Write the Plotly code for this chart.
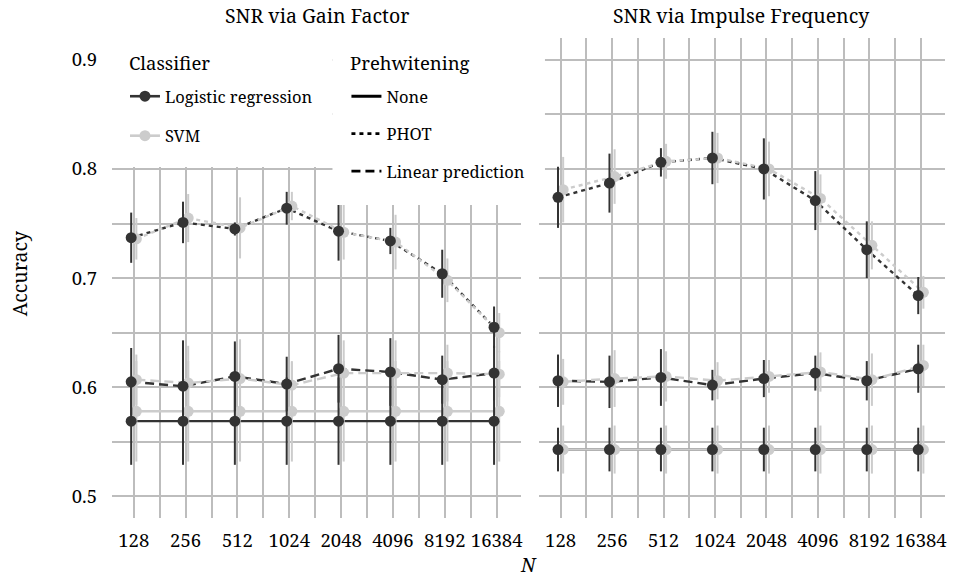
import plotly.graph_objects as go

# ---------------- data ----------------
N_labels = ["128", "256", "512", "1024", "2048", "4096", "8192", "16384"]
panels = ["SNR via Gain Factor", "SNR via Impulse Frequency"]
prewhitening = ["None", "PHOT", "Linear prediction"]
classifiers = ["Logistic regression", "SVM"]

# Gain factor panel
gain_lr_none = [0.569, 0.569, 0.569, 0.569, 0.569, 0.569, 0.569, 0.569]
gain_lr_none_err = [0.040, 0.040, 0.040, 0.040, 0.040, 0.040, 0.040, 0.040]
gain_svm_none = [0.578, 0.578, 0.578, 0.578, 0.578, 0.578, 0.578, 0.578]
gain_svm_none_err = [0.046, 0.046, 0.046, 0.046, 0.046, 0.046, 0.046, 0.046]
gain_lr_phot = [0.737, 0.751, 0.745, 0.764, 0.743, 0.734, 0.704, 0.655]
gain_lr_phot_err = [0.023, 0.019, 0.006, 0.015, 0.027, 0.012, 0.022, 0.019]
gain_svm_phot = [0.736, 0.755, 0.746, 0.766, 0.742, 0.733, 0.698, 0.650]
gain_svm_phot_err = [0.019, 0.022, 0.028, 0.013, 0.025, 0.025, 0.020, 0.018]
gain_lr_lp = [0.605, 0.601, 0.610, 0.603, 0.617, 0.614, 0.607, 0.613]
gain_lr_lp_err = [0.031, 0.042, 0.032, 0.025, 0.031, 0.031, 0.022, 0.025]
gain_svm_lp = [0.607, 0.604, 0.608, 0.602, 0.613, 0.613, 0.613, 0.612]
gain_svm_lp_err = [0.023, 0.034, 0.036, 0.021, 0.030, 0.030, 0.026, 0.021]

# Impulse frequency panel
imp_lr_none = [0.543, 0.543, 0.543, 0.543, 0.543, 0.543, 0.543, 0.543]
imp_lr_none_err = [0.020, 0.020, 0.020, 0.020, 0.020, 0.020, 0.020, 0.020]
imp_svm_none = [0.543, 0.543, 0.543, 0.543, 0.543, 0.543, 0.543, 0.543]
imp_svm_none_err = [0.022, 0.022, 0.022, 0.022, 0.022, 0.022, 0.022, 0.022]
imp_lr_phot = [0.774, 0.787, 0.806, 0.810, 0.800, 0.771, 0.726, 0.684]
imp_lr_phot_err = [0.028, 0.027, 0.013, 0.024, 0.028, 0.027, 0.026, 0.017]
imp_svm_phot = [0.781, 0.793, 0.807, 0.810, 0.800, 0.773, 0.730, 0.687]
imp_svm_phot_err = [0.030, 0.025, 0.016, 0.023, 0.025, 0.022, 0.022, 0.015]
imp_lr_lp = [0.606, 0.605, 0.609, 0.602, 0.608, 0.613, 0.606, 0.617]
imp_lr_lp_err = [0.024, 0.024, 0.026, 0.014, 0.017, 0.016, 0.018, 0.022]
imp_svm_lp = [0.605, 0.608, 0.610, 0.606, 0.610, 0.614, 0.607, 0.620]
imp_svm_lp_err = [0.021, 0.026, 0.023, 0.017, 0.015, 0.018, 0.024, 0.019]

series = {
    ("x", "y"): {
        "None": {"LR": (gain_lr_none, gain_lr_none_err), "SVM": (gain_svm_none, gain_svm_none_err)},
        "PHOT": {"LR": (gain_lr_phot, gain_lr_phot_err), "SVM": (gain_svm_phot, gain_svm_phot_err)},
        "Linear prediction": {"LR": (gain_lr_lp, gain_lr_lp_err), "SVM": (gain_svm_lp, gain_svm_lp_err)},
    },
    ("x2", "y2"): {
        "None": {"LR": (imp_lr_none, imp_lr_none_err), "SVM": (imp_svm_none, imp_svm_none_err)},
        "PHOT": {"LR": (imp_lr_phot, imp_lr_phot_err), "SVM": (imp_svm_phot, imp_svm_phot_err)},
        "Linear prediction": {"LR": (imp_lr_lp, imp_lr_lp_err), "SVM": (imp_svm_lp, imp_svm_lp_err)},
    },
}

# ---------------- style ----------------
FONT = "Noto Serif"
DARK = "#333333"
LIGHT = "#cccccc"
GRID = "#bdbdbd"
colors = {"LR": DARK, "SVM": LIGHT}
dodge = {"LR": -0.05, "SVM": 0.05}
dashes = {"None": "solid", "PHOT": "4px,4px", "Linear prediction": "9px,5px"}

idx = list(range(len(N_labels)))
fig = go.Figure()

for (xa, ya), data in series.items():
    for cls in ["LR", "SVM"]:
        for pw in prewhitening:
            vals, errs = data[pw][cls]
            fig.add_trace(go.Scatter(
                x=[i + dodge[cls] for i in idx], y=vals, xaxis=xa, yaxis=ya,
                mode="lines", line=dict(color=colors[cls], width=2.4, dash=dashes[pw]),
                showlegend=False, hoverinfo="skip"))
    for cls in ["SVM", "LR"]:
        for pw in prewhitening:
            vals, errs = data[pw][cls]
            fig.add_trace(go.Scatter(
                x=[i + dodge[cls] for i in idx], y=vals, xaxis=xa, yaxis=ya,
                mode="markers", marker=dict(color=colors[cls], size=11),
                error_y=dict(type="data", array=errs, color=colors[cls], thickness=2, width=0),
                showlegend=False))

for cls, name in zip(["LR", "SVM"], classifiers):
    fig.add_trace(go.Scatter(
        x=[None], y=[None], mode="lines+markers", name=name,
        line=dict(color=colors[cls], width=2.6), marker=dict(color=colors[cls], size=11),
        legend="legend", legendgroup=name, showlegend=True))
for pw in prewhitening:
    fig.add_trace(go.Scatter(
        x=[None], y=[None], mode="lines", name=pw,
        line=dict(color="black", width=2.8, dash=dashes[pw]),
        legend="legend2", legendgroup=pw, showlegend=True))

W, H = 957, 580
ML, MR, MT, MB = 112, 10, 38, 62
PW, PH = W - ML - MR, H - MT - MB

def px_x(p):
    return (p - ML) / PW

def px_y(p):
    return 1 - (p - MT) / PH

xcommon = dict(range=[-0.42, 7.47], tickmode="array", tickvals=idx, ticktext=N_labels,
               showgrid=True, gridcolor=GRID, gridwidth=1.5, zeroline=False, showline=False,
               ticks="", ticklabelstandoff=9, tickfont=dict(family=FONT, size=18.5, color="black"),
               minor=dict(dtick=0.5, tick0=0, showgrid=True, gridcolor=GRID, gridwidth=1.5))
ycommon = dict(range=[0.4803, 0.9199], tick0=0.5, dtick=0.1, tickformat=".1f",
               showgrid=True, gridcolor=GRID, gridwidth=1.5, zeroline=False, showline=False,
               ticks="", tickfont=dict(family=FONT, size=18.5, color="black"),
               minor=dict(dtick=0.05, tick0=0.5, showgrid=True, gridcolor=GRID, gridwidth=1.5))

left_end = px_x(522)
right_start = px_x(540)

fig.update_layout(
    width=W, height=H,
    margin=dict(l=ML, r=MR, t=MT, b=MB),
    paper_bgcolor="white", plot_bgcolor="white",
    font=dict(family=FONT, color="black", size=16),
    xaxis=dict(domain=[0, left_end], anchor="y", **xcommon),
    xaxis2=dict(domain=[right_start, 1], anchor="y2", **xcommon),
    yaxis=dict(domain=[0, 1], anchor="x", ticklabelstandoff=14, **ycommon),
    yaxis2=dict(domain=[0, 1], anchor="x2", matches="y", showticklabels=False, **ycommon),
    legend=dict(x=px_x(125), y=px_y(79), xanchor="left", yanchor="top", bgcolor="rgba(0,0,0,0)",
                font=dict(family=FONT, size=16.5), traceorder="grouped", tracegroupgap=15,
                itemwidth=30),
    legend2=dict(x=px_x(347), y=px_y(79), xanchor="left", yanchor="top", bgcolor="rgba(0,0,0,0)",
                 font=dict(family=FONT, size=16.5), traceorder="grouped", tracegroupgap=13,
                 itemwidth=30),
    shapes=[
        dict(type="rect", xref="paper", yref="paper", x0=px_x(112), x1=px_x(333),
             y0=px_y(167), y1=px_y(36), fillcolor="white", line=dict(width=0), layer="above"),
        dict(type="rect", xref="paper", yref="paper", x0=px_x(333), x1=px_x(546),
             y0=px_y(205), y1=px_y(36), fillcolor="white", line=dict(width=0), layer="above"),
    ],
    annotations=[
        dict(text="Classifier", x=px_x(127), y=px_y(62), xref="paper", yref="paper",
             showarrow=False, font=dict(family=FONT, size=18.5), xanchor="left", yanchor="middle"),
        dict(text="Prehwitening", x=px_x(349), y=px_y(62), xref="paper", yref="paper",
             showarrow=False, font=dict(family=FONT, size=18.5), xanchor="left", yanchor="middle"),
        dict(text=panels[0], x=left_end / 2, y=px_y(15), xref="paper", yref="paper",
             showarrow=False, font=dict(family=FONT, size=19.5), xanchor="center", yanchor="middle"),
        dict(text=panels[1], x=(right_start + 1) / 2, y=px_y(15), xref="paper", yref="paper",
             showarrow=False, font=dict(family=FONT, size=19.5), xanchor="center", yanchor="middle"),
        dict(text="Accuracy", x=px_x(19), y=px_y(273), xref="paper", yref="paper", textangle=-90,
             showarrow=False, font=dict(family=FONT, size=19.5), xanchor="center", yanchor="middle"),
        dict(text="<i>N</i>", x=px_x(530), y=px_y(565), xref="paper", yref="paper",
             showarrow=False, font=dict(family=FONT, size=19), xanchor="center", yanchor="middle"),
    ],
    showlegend=True,
)

fig.write_html("out.html")
